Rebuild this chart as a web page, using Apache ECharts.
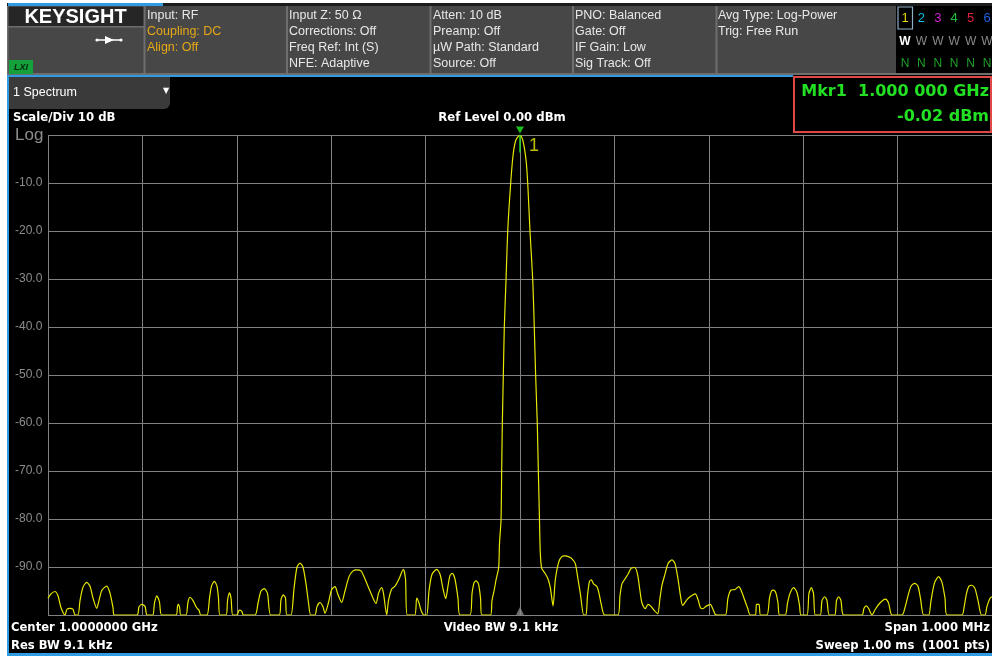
<!DOCTYPE html>
<html>
<head>
<meta charset="utf-8">
<script src="https://cdn.jsdelivr.net/npm/echarts@6/dist/echarts.min.js"></script>
<style>
html,body{margin:0;padding:0;background:#fff;}
#c{width:992px;height:656px;}
</style>
</head>
<body>
<div id="c"></div>
<script>
// ---- Data (frequency offset from 1 GHz centre in kHz, level in dBm) ----
const centerFreqGHz = 1.0;
const spanKHz = 1000;
const freqOffsetKHz = [
-500,-496.8,-492.6,-489.4,-486.2,-482.0,-479.9,-476.7,-473.5,-471.4,-468.2,-466.1,-462.9,-459.0,-455.5,-452.3,-448.4,-446.0,-442.8,-437.8,-434.3,-431.1,-429.8,
-405.7,-403.6,-400.7,-397.2,-395.1,-389.1,-387.2,-384.8,-381.9,-379.5,-364.4,-362.8,-362.0,-360.5,-359.4,-353.8,-351.7,-349.6,-346.4,-342.5,-340.0,-338.2,
-331.6,-328.9,-326.8,-323.8,-321.0,-319.4,-317.8,-311.4,-309.8,-307.9,-306.1,-304.3,-299.5,-298.2,-296.6,-294.5,-293.1,-280.7,-277.5,-274.4,-270.9,-267.5,-264.1,
-255.0,-253.2,-250.7,-248.4,-247.1,-242.6,-239.4,-236.2,-233.0,-229.9,-226.7,-224.0,-221.7,-217.2,-215.0,-211.9,-208.7,-206.6,-203.0,-199.5,-196.0,-192.8,-188.9,
-185.4,-181.1,-176.9,-173.0,-168.4,-164.2,-158.9,-152.5,-149.9,-146.5,-144.6,-141.2,-139.3,-135.9,-132.4,-128.2,-123.6,-121.3,-119.4,-111.5,-109.4,-107.0,-104.9,-101.7,
-98.8,-96.4,-93.2,-88.2,-84.7,-81.6,-78.7,-76.3,-74.2,-71.7,-68.9,-65.7,-63.6,-53.0,-50.8,-48.7,-46.6,-44.0,-41.8,-40.6,-31.2,-29.7,-27.5,-25.4,-22.6,
-21.7,-20.1,-19.4,-18.7,-17.7,-16.6,-14.8,-13.0,-9.9,-7.1,-4.2,0,2.9,6.4,8.2,10.6,13.5,15.1,16.6,18.3,19.4,20.4,21.5,23.0,
26.5,29.7,32.3,35.0,37.4,41.0,44.5,47.7,51.9,55.1,58.6,61.4,63.9,67.5,69.9,71.5,73.6,75.5,77.9,81.6,83.7,86.3,89.7,
103.8,105.9,108.0,111.2,114.4,117.6,121.5,124.5,127.1,129.2,132.7,135.6,138.8,141.9,145.9,148.3,150.4,153.6,156.8,161.0,164.2,167.4,170.0,172.3,
176.9,180.1,185.7,188.6,191.2,193.5,197.0,201.6,204.4,206.6,208.7,217.5,220.3,223.5,227.7,231.7,234.1,237.3,241.0,244.0,249.4,250.5,253.2,254.8,
261.6,264.3,266.4,268.7,271.2,273.3,274.9,281.0,283.4,286.0,289.9,293.4,296.1,297.7,304.0,306.1,308.6,310.9,312.8,318.1,319.9,322.8,325.2,327.6,
333.4,335.3,337.6,340.0,342.9,362.3,364.4,366.8,369.2,372.9,376.4,381.3,387.0,390.4,394.1,404.7,407.8,411.0,414.2,418.1,421.6,424.2,427.6,
432.9,435.4,439.1,443.5,447.0,450.2,452.3,468.2,470.3,473.0,475.6,478.8,482.0,485.2,488.9,492.6,494.7,497.9,500
];
const levelDBm = [
-96.5,-95.6,-95.1,-96.0,-98.5,-100,-98.8,-98.6,-98.8,-100,-100,-97,-94.2,-93.2,-94.0,-96.5,-98.6,-97,-94.8,-94.0,-95.5,-98.5,-100,
-100,-98.3,-97.8,-98.2,-100,-100,-97.5,-96.0,-97.3,-100,-100,-98.2,-97.8,-98.5,-100,-100,-97.3,-96.3,-97.0,-98.5,-99,-100,
-100,-96.5,-94.0,-93.0,-94.0,-96.5,-100,-100,-97.0,-95.4,-96.5,-100,-100,-99.2,-99.0,-99.3,-100,-100,-97.5,-95.0,-94.5,-95.5,-100,
-100,-96.8,-95.8,-96.5,-100,-100,-94.5,-90.0,-89.2,-90.0,-93.5,-97.5,-100,-100,-98.2,-97.4,-98.3,-99.6,-97.5,-94.7,-94.1,-95.8,-97.4,
-95.0,-92.0,-90.8,-90.6,-90.8,-92.5,-95.0,-97.6,-95.5,-94.3,-95.5,-100,-97,-94.6,-94.0,-92.5,-90.5,-92.5,-100,-100,-96.5,-97.5,-99,-100,
-100,-95,-91.5,-90.5,-91.5,-94.5,-96.6,-94,-91.8,-91.3,-92.5,-96.5,-100,-100,-95.5,-93.3,-92.9,-93.5,-96.5,-100,-100,-97,-95,-92.7,-90.1,
-85,-80.2,-69.8,-60,-50.3,-39.9,-30.2,-20.1,-10.1,-3.8,-1.0,-0.02,-1.0,-5.2,-10.1,-20.1,-30.2,-39.9,-50.3,-60,-69.8,-78,-87,-90.3,
-91.3,-92.5,-94.5,-98.1,-92.7,-89.0,-87.8,-87.7,-87.9,-88.3,-89.3,-92.5,-95.5,-100,-100,-96.0,-93.0,-92.7,-93.5,-94.1,-95.5,-98,-100,
-100,-96,-93.5,-92.5,-91.5,-90.3,-90.1,-91.5,-95,-97.5,-98.7,-97.8,-98.2,-99.0,-99.7,-96.5,-93.8,-91.5,-89.3,-88.5,-89.3,-92.5,-96.0,-98.0,
-96.8,-96.2,-95.6,-96.8,-98.5,-98.7,-98.2,-97.8,-98.8,-99.8,-100,-100,-96.5,-94.8,-94.7,-94.1,-94.8,-96.5,-98.5,-100,-100,-97.8,-97.8,-100,
-100,-96.5,-95.0,-94.8,-95.5,-97.5,-100,-100,-97.5,-95.5,-94.3,-95.3,-98,-100,-100,-95.5,-94.3,-95.5,-100,-100,-97,-96.2,-97,-100,
-100,-97,-96.2,-97,-100,-100,-98.6,-98.1,-98.6,-100,-98.8,-97.5,-96.7,-97.5,-100,-100,-98.5,-96,-94,-93.4,-94,-96.5,-100,
-100,-97,-93.3,-92.0,-93.2,-96.5,-100,-100,-98.5,-95.5,-94,-93.8,-94.5,-97,-100,-100,-98.2,-96.5,-96.2
];
const yTicks = [0,-10,-20,-30,-40,-50,-60,-70,-80,-90,-100];
const markerFreqKHz = 0;
const markerLevelDBm = -0.02;

const headerCols = [
  [["Input: RF","#e8e8e8"],["Coupling: DC","#e6a817"],["Align: Off","#e6a817"]],
  [["Input Z: 50 \u03A9","#e8e8e8"],["Corrections: Off","#e8e8e8"],["Freq Ref: Int (S)","#e8e8e8"],["NFE: Adaptive","#e8e8e8"]],
  [["Atten: 10 dB","#e8e8e8"],["Preamp: Off","#e8e8e8"],["\u00B5W Path: Standard","#e8e8e8"],["Source: Off","#e8e8e8"]],
  [["PNO: Balanced","#e8e8e8"],["Gate: Off","#e8e8e8"],["IF Gain: Low","#e8e8e8"],["Sig Track: Off","#e8e8e8"]],
  [["Avg Type: Log-Power","#e8e8e8"],["Trig: Free Run","#e8e8e8"]]
];
const traceNums = ["1","2","3","4","5","6"];
const traceColors = ["#e6d200","#10c0e0","#d020d0","#20c040","#e02040","#2060e0"];

// ---- build ----
const FF = '"Liberation Sans", Arial, sans-serif';
const FB = '"DejaVu Sans", sans-serif';
function txt(x, y, s, fill, font, align) {
  return {type:'text', x:x, y:y, z:10, silent:true, style:{text:s, fill:fill, font:font,
    align:align||'left', verticalAlign:'middle', textAlign:align||'left', textVerticalAlign:'middle'}};
}
const colX = [147, 289, 433, 575, 718];
const g = [];
// frame / margins
g.push({type:'rect', z:0, shape:{x:0,y:0,width:992,height:3}, style:{fill:'#fff'}});
g.push({type:'rect', z:0, shape:{x:0,y:0,width:7,height:656}, style:{fill:'#fff'}});
g.push({type:'rect', z:0, shape:{x:7,y:3,width:985,height:3}, style:{fill:'#1c1c1c'}});
g.push({type:'rect', z:1, shape:{x:8,y:3,width:155,height:3}, style:{fill:'#2f9be0'}});
g.push({type:'rect', z:0, shape:{x:7,y:6,width:985,height:69}, style:{fill:'#474747'}});
g.push({type:'rect', z:1, shape:{x:8,y:7,width:136,height:19}, style:{fill:'#262626'}});
g.push({type:'rect', z:1, shape:{x:8,y:26,width:136,height:1.5}, style:{fill:'#6e6e6e'}});
[144.5, 287, 430.5, 573, 716.5].forEach(function(x){
  g.push({type:'rect', z:1, shape:{x:x-1,y:6,width:2,height:69}, style:{fill:'#6e6e6e'}});
});
g.push({type:'rect', z:1, shape:{x:7,y:6,width:1.5,height:69}, style:{fill:'#6e6e6e'}});
g.push({type:'rect', z:1, shape:{x:896,y:6,width:96,height:68}, style:{fill:'#000'}});
g.push({type:'rect', z:1, shape:{x:7,y:73,width:985,height:2}, style:{fill:'#6e6e6e'}});
g.push({type:'rect', z:1, shape:{x:7,y:75,width:786,height:2}, style:{fill:'#2f9be0'}});
g.push({type:'rect', z:1, shape:{x:7,y:75,width:2,height:581}, style:{fill:'#2f9be0'}});
g.push({type:'rect', z:1, shape:{x:7,y:653,width:985,height:3}, style:{fill:'#2f9be0'}});
// KEYSIGHT logo
g.push(txt(75.5, 17.5, 'KEYSIGHT', '#ffffff', 'bold 20px ' + FF, 'center'));
g.push({type:'line', z:10, shape:{x1:97,y1:40,x2:121,y2:40}, style:{stroke:'#fff', lineWidth:1.5}});
g.push({type:'polygon', z:10, shape:{points:[[105,36],[105,44],[114,40]]}, style:{fill:'#fff'}});
g.push({type:'circle', z:10, shape:{cx:97,cy:40,r:1.6}, style:{fill:'#fff'}});
g.push({type:'circle', z:10, shape:{cx:121,cy:40,r:1.6}, style:{fill:'#fff'}});
g.push({type:'rect', z:5, shape:{x:9,y:60,width:24,height:14}, style:{fill:'#14a03a'}});
g.push(txt(21, 67.5, 'LXI', '#062a0e', 'italic bold 9px ' + FF, 'center'));
// header text columns
headerCols.forEach(function(col, i){
  col.forEach(function(item, j){
    g.push(txt(colX[i], 15.5 + 16*j, item[0], item[1], '12.5px ' + FF));
  });
});
// trace indicator panel
g.push({type:'rect', z:5, shape:{x:898,y:7,width:14.5,height:22}, style:{fill:'none', stroke:'#8fb0c8', lineWidth:1.2}});
traceNums.forEach(function(n, i){
  const x = 905 + i*16.4;
  g.push(txt(x, 18, n, traceColors[i], '13px ' + FF, 'center'));
  g.push(txt(x, 42, 'W', i===0 ? '#ffffff' : '#8a8a8a', (i===0?'bold ':'') + '12px ' + FF, 'center'));
  g.push(txt(x, 64, 'N', '#1fa02a', '12px ' + FF, 'center'));
});
// spectrum tab
g.push({type:'rect', z:1, shape:{x:9,y:77,width:161,height:32,r:[0,0,6,0]}, style:{fill:'#3a3a3a'}});
g.push(txt(13, 93, '1 Spectrum', '#ffffff', '12.5px ' + FF));
g.push(txt(166, 91, '\u25BC', '#ffffff', '8px ' + FB, 'center'));
// marker box
g.push({type:'rect', z:1, shape:{x:794,y:77,width:197,height:55}, style:{fill:'#000', stroke:'#e04848', lineWidth:2}});
g.push(txt(989, 92, 'Mkr1  1.000 000 GHz', '#22e022', 'bold 16px ' + FB, 'right'));
g.push(txt(989, 117, markerLevelDBm.toFixed(2) + ' dBm', '#22e022', 'bold 16px ' + FB, 'right'));
// annotations
g.push(txt(13, 118, 'Scale/Div 10 dB', '#ffffff', 'bold 11.7px ' + FB));
g.push(txt(15, 135, 'Log', '#8c8c8c', '17px ' + FF));
g.push(txt(502, 118, 'Ref Level 0.00 dBm', '#ffffff', 'bold 11.7px ' + FB, 'center'));
g.push(txt(11, 628, 'Center 1.0000000 GHz', '#ffffff', 'bold 11.6px ' + FB));
g.push(txt(11, 646, 'Res BW 9.1 kHz', '#ffffff', 'bold 11.6px ' + FB));
g.push(txt(501, 628, 'Video BW 9.1 kHz', '#ffffff', 'bold 11.6px ' + FB, 'center'));
g.push(txt(990, 628, 'Span 1.000 MHz', '#ffffff', 'bold 11.6px ' + FB, 'right'));
g.push(txt(990, 646, 'Sweep 1.00 ms  (1001 pts)', '#ffffff', 'bold 11.6px ' + FB, 'right'));

const traceData = freqOffsetKHz.map(function(f, i){ return [f, levelDBm[i]]; });

const chart = echarts.init(document.getElementById('c'), null, {renderer:'canvas'});
chart.setOption({
  animation: false,
  backgroundColor: '#000',
  grid: {left:48, top:135, width:944, height:480, show:false},
  xAxis: {type:'value', min:-spanKHz/2, max:spanKHz/2, interval:100,
    axisLine:{show:false}, axisTick:{show:false}, axisLabel:{show:false},
    splitLine:{show:true, lineStyle:{color:'#828282', width:1}}},
  yAxis: {type:'value', min:yTicks[yTicks.length-1], max:yTicks[0], interval:10,
    axisLine:{show:false}, axisTick:{show:false},
    axisLabel:{color:'#8c8c8c', fontSize:12, fontFamily:'Liberation Sans', align:'left', margin:33,
      formatter:function(v){ return (v===yTicks[0] || v===yTicks[yTicks.length-1]) ? '' : v.toFixed(1); }},
    splitLine:{show:true, lineStyle:{color:'#828282', width:1}}},
  graphic: g,
  series: [
    {type:'line', data: traceData, symbol:'none', smooth:0.25, z:3,
     lineStyle:{color:'#e8e800', width:1.2}},
    {type:'line', data:[[markerFreqKHz, markerLevelDBm],[markerFreqKHz, markerLevelDBm-3.6]], symbol:'none', z:5,
     lineStyle:{color:'#22dd22', width:1.5}},
    {type:'scatter', data:[[markerFreqKHz, markerLevelDBm]], symbol:'triangle', symbolRotate:180,
     symbolSize:[8,7], symbolOffset:[0,-5], itemStyle:{color:'#22ee22'}, z:6, clip:false,
     label:{show:true, formatter:'1', position:'right', distance:5, offset:[0,16], color:'#e8e800', fontSize:18, fontFamily:'Liberation Sans'}},
    {type:'scatter', data:[[0, yTicks[yTicks.length-1]]], symbol:'triangle', symbolSize:[8,8], symbolOffset:[0,-4],
     itemStyle:{color:'#8a8a8a'}, z:4, clip:false}
  ]
});
</script>
</body>
</html>
